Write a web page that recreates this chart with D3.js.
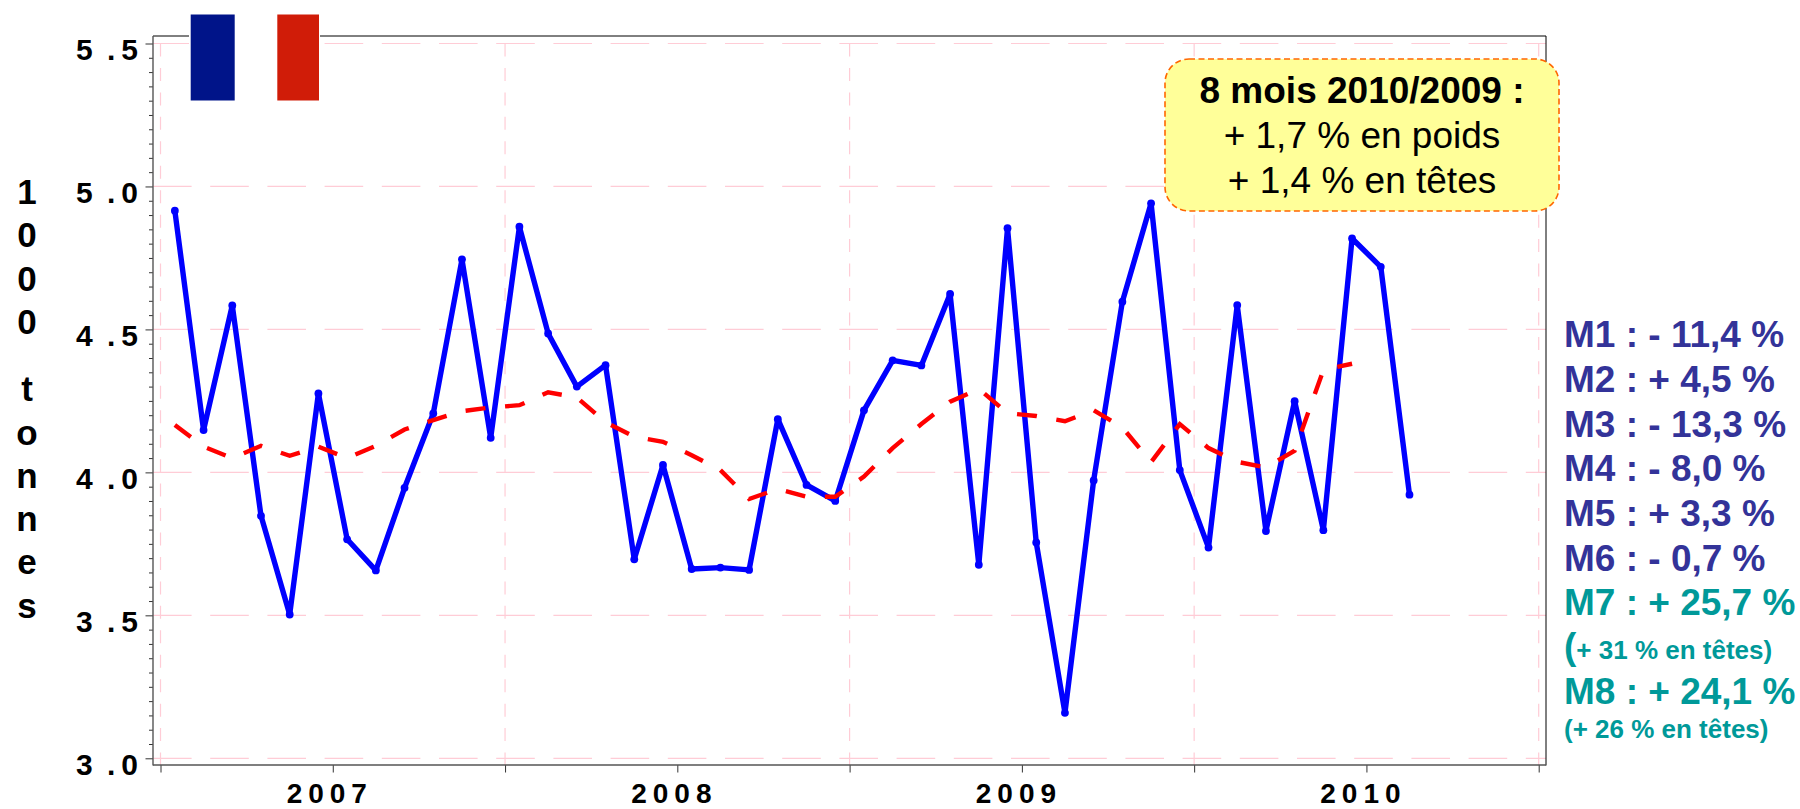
<!DOCTYPE html>
<html>
<head>
<meta charset="utf-8">
<script src="https://cdn.jsdelivr.net/npm/d3@7"></script>
<style>
html,body{margin:0;padding:0;background:#fff;}
svg{display:block;}
text{font-family:"Liberation Sans",Arial,sans-serif;}
</style>
</head>
<body>
<svg width="1800" height="809"></svg>
<script>
// poids mensuel, 1000 tonnes, janvier 2007 -> aout 2010
var monthly = [4.915,4.148,4.584,3.848,3.503,4.276,3.766,3.657,3.946,4.206,4.745,4.121,
	4.859,4.486,4.300,4.375,3.696,4.026,3.662,3.667,3.659,4.186,3.956,3.900,
	4.217,4.392,4.374,4.624,3.677,4.854,3.755,3.159,3.972,4.597,4.941,4.008,
	3.737,4.585,3.795,4.249,3.798,4.818,4.719,3.922];
// moyenne mobile
var smooth = [4.166,4.090,4.050,4.093,4.058,4.090,4.050,4.093,4.150,4.183,4.214,4.227,
	4.235,4.280,4.262,4.175,4.125,4.107,4.060,4.008,3.907,3.942,3.915,3.915,
	3.985,4.085,4.169,4.247,4.292,4.207,4.197,4.179,4.217,4.157,4.036,4.169,
	4.085,4.037,4.017,4.076,4.358,4.380];
var yearLabels = ["2007","2008","2009","2010"];
var yTicks = [3.0,3.5,4.0,4.5,5.0,5.5];
var yTickLabels = ["3 .0","3 .5","4 .0","4 .5","5 .0","5 .5"];
var yTitle = "1000 tonnes";
var boxLines = ["8 mois 2010/2009 :","+ 1,7 % en poids","+ 1,4 % en têtes"];
var evolutions = ["M1 : - 11,4 %","M2 : + 4,5 %","M3 : - 13,3 %","M4 : - 8,0 %","M5 : + 3,3 %","M6 : - 0,7 %","M7 : + 25,7 %","M8 : + 24,1 %"];
var headNotes = ["+ 31 % en têtes)","(+ 26 % en têtes)"];

var left = 153, right = 1546, top_ = 36, bottom = 765;
var pink = "#ffccd6", navy = "#333399", teal = "#009999";

var svg = d3.select("svg");
var x = d3.scaleLinear().domain([0,48]).range([160.5,1538.7]);
var y = d3.scaleLinear().domain([3,5.5]).range([758.3,43.5]);

//grille
svg.selectAll("line.gridH").data(yTicks).enter().append("line")
	.attr("class","gridH")
	.attr("x1",left).attr("x2",right)
	.attr("y1",function(d){return y(d);}).attr("y2",function(d){return y(d);})
	.attr("stroke",pink).attr("stroke-width",1.2).attr("stroke-dasharray","38.6 18.6");
svg.selectAll("line.gridV").data(d3.range(0,49,12)).enter().append("line")
	.attr("class","gridV")
	.attr("x1",function(d){return x(d);}).attr("x2",function(d){return x(d);})
	.attr("y1",y(5.5)).attr("y2",bottom)
	.attr("stroke",pink).attr("stroke-width",1.2).attr("stroke-dasharray","13 11.45");

//axes
var yMinor = d3.range(60,111,1).map(function(d){return d*0.05;}).filter(function(d){return yTicks.indexOf(+d.toFixed(2))<0;});
var axisY = d3.axisLeft(y).tickValues(yTicks).tickSize(7.5)
	.tickFormat(function(d,i){return yTickLabels[i];});
var gY = svg.append("g").attr("transform","translate("+left+",0)").call(axisY);
gY.select(".domain").remove();
gY.selectAll(".tick line").attr("stroke","#333").attr("stroke-width",1);
gY.selectAll(".tick text")
	.attr("x",76-left).attr("dy",0).attr("y",16)
	.attr("text-anchor","start")
	.style("font-family","'Liberation Sans',Arial,sans-serif")
	.style("font-size","30px").style("font-weight","bold")
	.style("letter-spacing","6px").style("word-spacing","-6px").attr("fill","#000");
svg.append("g").attr("transform","translate("+left+",0)")
	.call(d3.axisLeft(y).tickValues(yMinor).tickSize(4).tickFormat(""))
	.call(function(g){g.select(".domain").remove();})
	.selectAll(".tick line").attr("stroke","#333").attr("stroke-width",1);

var axisX = d3.axisBottom(x).tickValues(d3.range(0,49,6)).tickSize(7.5)
	.tickFormat(function(d){return (d%12==6)?yearLabels[(d-6)/12]:"";});
var gX = svg.append("g").attr("transform","translate(0,"+bottom+")").call(axisX);
gX.select(".domain").remove();
gX.selectAll(".tick line").attr("stroke","#333").attr("stroke-width",1);
gX.selectAll(".tick text")
	.attr("y",38).attr("dy",0).attr("dx",-3.5)
	.style("font-family","'Liberation Sans',Arial,sans-serif")
	.style("font-size","28px").style("font-weight","bold").style("letter-spacing","6px").attr("fill","#000");

//cadre
svg.append("line").attr("x1",left).attr("x2",right).attr("y1",top_).attr("y2",top_).attr("stroke","#000").attr("stroke-width",1);
svg.append("line").attr("x1",right).attr("x2",right).attr("y1",top_).attr("y2",bottom+0.5).attr("stroke","#000").attr("stroke-width",1);
svg.append("line").attr("x1",left).attr("x2",left).attr("y1",top_).attr("y2",bottom+0.5).attr("stroke","#555").attr("stroke-width",1.4);
svg.append("line").attr("x1",left).attr("x2",right).attr("y1",bottom).attr("y2",bottom).attr("stroke","#555").attr("stroke-width",1.4);

//courbes
var line = d3.line()
	.x(function(d,i){return x(i+0.5);})
	.y(function(d){return y(d);});
svg.append("path").attr("d",line(monthly))
	.attr("fill","none").attr("stroke","#0000ff").attr("stroke-width",5.4).attr("stroke-linejoin","round");
svg.selectAll("circle.point").data(monthly).enter().append("circle")
	.attr("class","point")
	.attr("cx",function(d,i){return x(i+0.5);})
	.attr("cy",function(d){return y(d);})
	.attr("r",3.9).attr("fill","#0000ff");
svg.append("path").attr("d",line(smooth))
	.attr("fill","none").attr("stroke","#ff0000").attr("stroke-width",4.4).attr("stroke-dasharray","20 19.72");

//drapeau
svg.append("rect").attr("x",189).attr("y",14).attr("width",131).attr("height",88).attr("fill","#fff");
svg.append("rect").attr("x",190.7).attr("y",14.5).attr("width",44).attr("height",86).attr("fill","#001489");
svg.append("rect").attr("x",277.3).attr("y",14.5).attr("width",41.7).attr("height",86).attr("fill","#d01c08");

//titre vertical
var yLetter = 204;
yTitle.split("").forEach(function(c){
	if(c==" "){ yLetter += 24; return; }
	svg.append("text").attr("x",27).attr("y",yLetter).attr("text-anchor","middle")
		.style("font-size","35px").style("font-weight","bold").text(c);
	yLetter += 43.3;
});

//encadre
svg.append("rect").attr("x",1165).attr("y",59).attr("width",394).attr("height",152).attr("rx",24)
	.attr("fill","#ffff99").attr("stroke","#ff6600").attr("stroke-width",1.6).attr("stroke-dasharray","6 3.5");
svg.selectAll("text.box").data(boxLines).enter().append("text")
	.attr("class","box")
	.attr("x",1362).attr("y",function(d,i){return 103+i*45;})
	.attr("text-anchor","middle")
	.style("font-size","37px").style("font-weight",function(d,i){return i==0?"bold":"normal";})
	.text(function(d){return d;});

//evolutions mensuelles
var rowY = [347,391.5,436.5,481,526,570.5,615,704];
svg.selectAll("text.evo").data(evolutions).enter().append("text")
	.attr("class","evo")
	.attr("x",1564).attr("y",function(d,i){return rowY[i];})
	.style("font-size","37px").style("font-weight","bold")
	.attr("fill",function(d,i){return i>5?teal:navy;})
	.text(function(d){return d;});
var note1 = svg.append("text").attr("x",1564).attr("y",659).attr("fill",teal).style("font-weight","bold");
note1.append("tspan").style("font-size","37px").text("(");
note1.append("tspan").style("font-size","26px").text(headNotes[0]);
svg.append("text").attr("x",1564).attr("y",738).attr("fill",teal).style("font-weight","bold")
	.style("font-size","26px").text(headNotes[1]);
</script>
</body>
</html>
